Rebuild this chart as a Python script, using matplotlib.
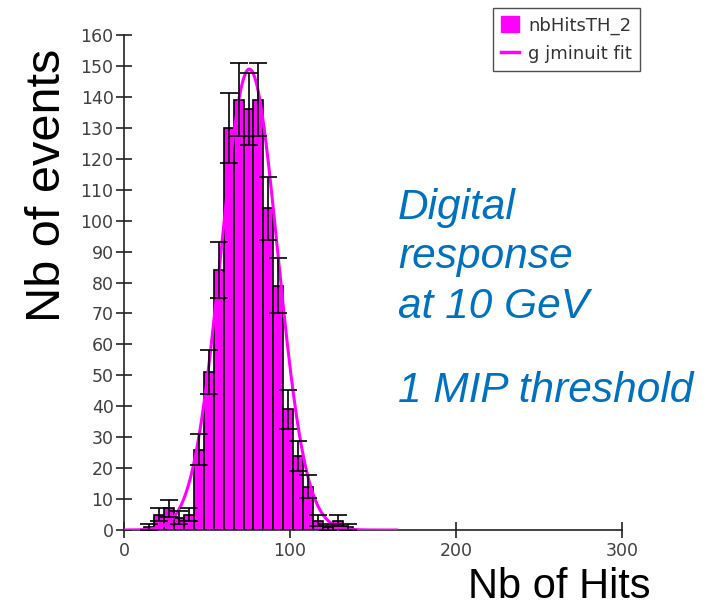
import numpy as np
import matplotlib
matplotlib.use("Agg")
import matplotlib.pyplot as plt
from matplotlib.patches import Patch
from matplotlib.lines import Line2D

# histogram of hit counts, 6-hit bins
bin_lo = [12, 18, 24, 30, 36, 42, 48, 54, 60, 66, 72, 78, 84, 90, 96, 102, 108, 114, 120, 126, 132]
counts = [1, 5, 7, 4, 5, 26, 51, 84, 130, 139, 136, 139, 104, 79, 39, 24, 14, 3, 1, 3, 1]
bin_w = 6

# gaussian fit parameters (amplitude, mean, sigma) and fit range
fit_amp, fit_mean, fit_sigma = 149.0, 75.5, 17.0
fit_range = (0, 165)

x_ticks = [0, 100, 200, 300]
y_ticks = list(range(0, 161, 10))

magenta = "#ff00ff"
blue = "#0070c0"
W, H = 711, 606

fig = plt.figure(figsize=(W / 100, H / 100), dpi=100)
ax = fig.add_axes([124 / W, 1 - 530 / H, (622 - 124) / W, (530 - 35) / H])

counts = np.array(counts, dtype=float)
centers = np.array(bin_lo) + bin_w / 2

ax.bar(bin_lo, counts, width=bin_w, align="edge", color=magenta,
       edgecolor="black", linewidth=1.2, zorder=2)

xf = np.linspace(fit_range[0], fit_range[1], 400)
yf = fit_amp * np.exp(-(xf - fit_mean) ** 2 / (2 * fit_sigma ** 2))
ax.plot(xf, yf, color=magenta, lw=2.2, zorder=3, solid_capstyle="butt")

ax.errorbar(centers, counts, yerr=np.sqrt(counts), fmt="none", ecolor="black",
            elinewidth=1.2, capsize=6.5, capthick=1.2, zorder=4)

ax.set_xlim(0, 300)
ax.set_ylim(0, 160)
ax.set_xticks(x_ticks)
ax.set_yticks(y_ticks)
for s in ["top", "right"]:
    ax.spines[s].set_visible(False)
for s in ["left", "bottom"]:
    ax.spines[s].set_color("#222222")
    ax.spines[s].set_linewidth(1.2)
ax.tick_params(axis="both", direction="inout", length=11, width=1.2,
               color="#222222", labelcolor="#404040", labelsize=12.5, pad=2)
ax.tick_params(axis="x", pad=3)

# legend box in the top right corner
handles = [Patch(facecolor=magenta, edgecolor=magenta),
           Line2D([], [], color=magenta, lw=2.5)]
leg = fig.legend(handles, ["nbHitsTH_2", "g jminuit fit"],
                 loc="upper left", bbox_to_anchor=(493 / W, 1 - 8 / H),
                 fontsize=13, frameon=True, fancybox=False, borderpad=0.45,
                 handlelength=1.0, handleheight=1.0, handletextpad=0.5,
                 labelspacing=0.55, borderaxespad=0)
leg.get_frame().set_edgecolor("#222222")
leg.get_frame().set_linewidth(1.0)
for t in leg.get_texts():
    t.set_color("#333333")

big = "Liberation Sans"
fig.text(60 / W, 1 - 322 / H, "Nb of events", rotation=90, rotation_mode="anchor",
         ha="left", va="baseline", fontsize=35, family=big, color="black")
fig.text(468 / W, 1 - 598 / H, "Nb of Hits", ha="left", va="baseline",
         fontsize=30, family=big, color="black")

notes = [("Digital", 219), ("response", 268), ("at 10 GeV", 318), ("1 MIP threshold", 402)]
for txt, yb in notes:
    fig.text(398 / W, 1 - yb / H, txt, ha="left", va="baseline", fontsize=30.5,
             family=big, style="italic", color=blue)

fig.savefig("out.png", dpi=100)
